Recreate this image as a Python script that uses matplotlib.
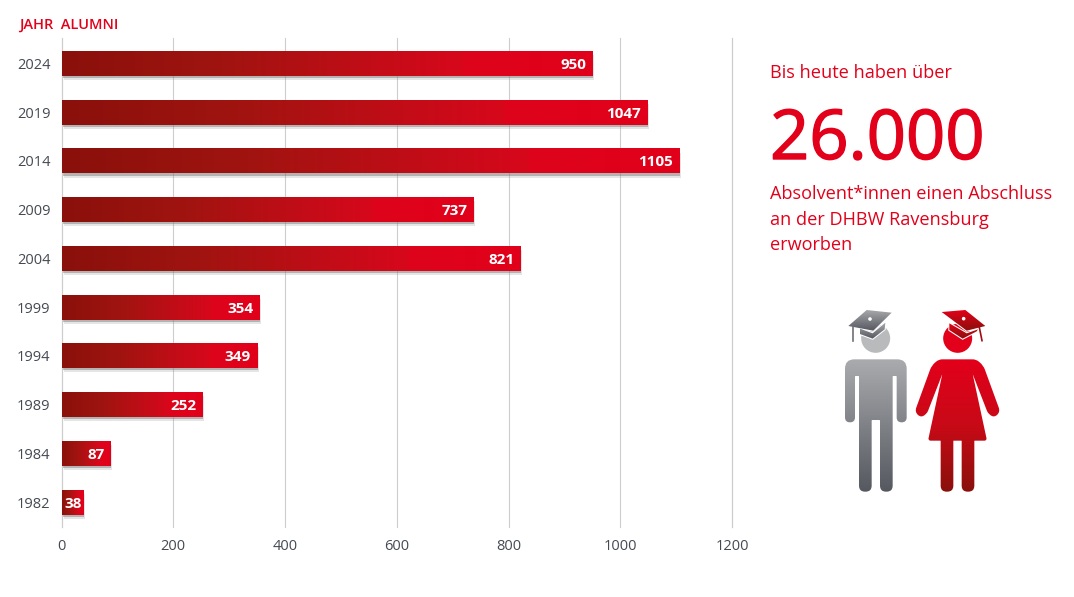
import numpy as np
import matplotlib
matplotlib.use('Agg')
import matplotlib.pyplot as plt
import matplotlib.patheffects as pe
from matplotlib.colors import LinearSegmentedColormap
from matplotlib.patches import PathPatch, Circle, Polygon
from matplotlib.path import Path

years = ['2024', '2019', '2014', '2009', '2004', '1999', '1994', '1989', '1984', '1982']
alumni = [950, 1047, 1105, 737, 821, 354, 349, 252, 87, 38]
xticks = [0, 200, 400, 600, 800, 1000, 1200]

RED = '#e2001a'
GREY = '#454a52'
W, H = 1074, 597

plt.rcParams['font.family'] = ['Open Sans', 'DejaVu Sans']

bar_cmap = LinearSegmentedColormap.from_list('bar', [(0, '#8a100b'), (0.3, '#a01410'), (0.75, '#d6081b'), (0.76, '#dd041b'), (1, RED)])
man_cmap = LinearSegmentedColormap.from_list('man', ['#a9abae', '#55585f'])
woman_cmap = LinearSegmentedColormap.from_list('woman', [RED, '#c80a17', '#8a100b'])
cap_grey = LinearSegmentedColormap.from_list('capg', ['#a5a7aa', '#55585f'])
cap_red = LinearSegmentedColormap.from_list('capr', [RED, '#8a100b'])

fig = plt.figure(figsize=(W / 100, H / 100), dpi=100)
ax = fig.add_axes([61.5 / W, 1 - 527 / H, (732 - 61.5) / W, (527 - 38) / H])

# bars
grad = np.linspace(0, 1, 256).reshape(1, -1)
pos = np.arange(len(years))
bars = ax.barh(pos, alumni, height=0.513, color='#b00c14', zorder=2)
for b in bars:
    b.set_path_effects([pe.SimplePatchShadow(offset=(1.5, -3), shadow_rgbFace='#999999', alpha=0.25),
                        pe.SimplePatchShadow(offset=(0.8, -1.5), shadow_rgbFace='#777777', alpha=0.45),
                        pe.Normal()])
for p, v in zip(pos, alumni):
    ax.imshow(grad, cmap=bar_cmap, aspect='auto', extent=[0, v, p + 0.2565, p - 0.2565], zorder=3)
    off = -0.5 if v < 50 else -4
    ax.annotate(str(v), (v, p), xytext=(off, 0), textcoords='offset points', ha='right', va='center_baseline',
                color='white', fontsize=11, fontweight='bold', zorder=4)

ax.set_xlim(0, 1200)
ax.set_ylim(9.513, -0.523)
ax.set_xticks(xticks)
ax.set_yticks(pos)
ax.set_yticklabels(years)
ax.tick_params(length=0, labelsize=10.5, labelcolor=GREY)
ax.tick_params(axis='x', pad=9)
ax.tick_params(axis='y', pad=8)
ax.grid(axis='x', color='#cdcdcd', linewidth=0.8, zorder=0, clip_on=False)
ax.set_axisbelow(True)
for s in ['top', 'right', 'bottom', 'left']:
    ax.spines[s].set_visible(False)
ax.axvline(0, color='#cdcdcd', linewidth=0.8, zorder=1, clip_on=False)
ax.axvline(1200, color='#cdcdcd', linewidth=0.8, zorder=1, clip_on=False)


def px(x, y):
    return x / W, 1 - y / H


fig.text(*px(19, 24.5), 'JAHR  ALUMNI', color=RED, fontsize=10.5, fontweight='semibold', va='center')
fig.text(*px(770, 72.5), 'Bis heute haben über', color=RED, fontsize=13.1, va='center')
big = fig.text(*px(770, 141), '26.000', color=RED, fontsize=49.5, va='center')
big.set_path_effects([pe.withStroke(linewidth=1.0, foreground=RED)])
for yy, line in zip([194, 220, 245], ['Absolvent*innen einen Abschluss', 'an der DHBW Ravensburg', 'erworben']):
    fig.text(*px(770, yy), line, color=RED, fontsize=13.05, va='center')

# icons, drawn in pixel coordinates on an overlay
ov = fig.add_axes([0, 0, 1, 1], zorder=5)
ov.set_xlim(0, W)
ov.set_ylim(H, 0)
ov.axis('off')
ov.patch.set_alpha(0)


def z(x, y):
    # zoom crop coordinates to image pixels
    return 820 + x / 3, 300 + y / 3


def rounded(pts):
    # pts: (x, y, radius) in crop coordinates
    verts, codes = [], []
    n = len(pts)
    for i in range(n):
        x, y, r = pts[i]
        a = np.array(pts[i - 1][:2], float)
        c = np.array(pts[(i + 1) % n][:2], float)
        b = np.array([x, y], float)
        d1 = (a - b) / np.linalg.norm(a - b)
        d2 = (c - b) / np.linalg.norm(c - b)
        p1 = b + d1 * r
        p2 = b + d2 * r
        verts.append(z(*p1))
        codes.append(Path.MOVETO if i == 0 else Path.LINETO)
        verts += [z(*b), z(*p2)]
        codes += [Path.CURVE3, Path.CURVE3]
    verts.append(verts[0])
    codes.append(Path.CLOSEPOLY)
    return Path(verts, codes)


def gradient_fill(path, cmap, y0, y1, x0=830, x1=1010):
    im = ov.imshow(np.linspace(0, 1, 128).reshape(-1, 1), cmap=cmap, aspect='auto',
                   extent=[x0, x1, y1, y0], zorder=2)
    patch = PathPatch(path, transform=ov.transData, fc='none', ec='none')
    ov.add_patch(patch)
    im.set_clip_path(patch)


man = [(75, 178, 28), (260, 178, 28), (260, 367, 15), (230, 367, 15), (230, 228, 2), (218, 228, 2),
       (218, 575, 18), (180, 575, 18), (180, 360, 2), (155, 360, 2), (155, 575, 18), (117, 575, 18),
       (117, 228, 2), (105, 228, 2), (105, 367, 15), (75, 367, 15)]
gradient_fill(rounded(man), man_cmap, 359, 492)

right = [(468, 178, 10), (490, 196, 14), (541, 336, 14), (521, 354, 14), (503, 338, 6), (458, 222, 4),
         (501, 422, 8), (463, 422, 1), (463, 575, 18), (425, 575, 18), (425, 422, 1)]
left = [(825 - x, y, r) for x, y, r in reversed(right)]
gradient_fill(rounded(right + left), woman_cmap, 359, 492)

ov.add_patch(Circle(z(167, 115), 14.5, fc='#b9babc', ec='none', zorder=3))
ov.add_patch(Circle(z(413, 115), 14.5, fc=RED, ec='none', zorder=3))

# caps
for board, under, tassel, btn, cm in [
    ([(85, 78), (140, 30), (215, 38), (160, 92)], [(120, 86), (158, 100), (196, 68), (194, 88), (158, 116), (120, 102)],
     [(100, 80), (100, 122)], (150, 57), cap_grey),
    ([(365, 36), (436, 30), (496, 78), (440, 92)], [(388, 70), (440, 100), (474, 88), (470, 94), (428, 116), (388, 90)],
     [(478, 82), (486, 122)], (431, 56), cap_red),
]:
    for shape in (under, board):
        poly = [z(*q) for q in shape]
        ov.add_patch(Polygon(poly, closed=True, fc='white', ec='white', lw=1.5, zorder=4))
        ys = [q[1] for q in poly]
        im = ov.imshow(np.linspace(0, 1, 64).reshape(-1, 1), cmap=cm, aspect='auto',
                       extent=[830, 1010, max(ys), min(ys)], zorder=5)
        clip = Polygon(poly, closed=True, transform=ov.transData, fc='none', ec='none')
        ov.add_patch(clip)
        im.set_clip_path(clip)
    ov.plot(*zip(*[z(*q) for q in tassel]), color=cm(0.7), lw=1.2, zorder=5)
    ov.add_patch(Circle(z(*btn), 1.8, fc='white', ec='none', zorder=6))

ov.set_xlim(0, W)
ov.set_ylim(H, 0)

fig.savefig('out.png', dpi=100)
